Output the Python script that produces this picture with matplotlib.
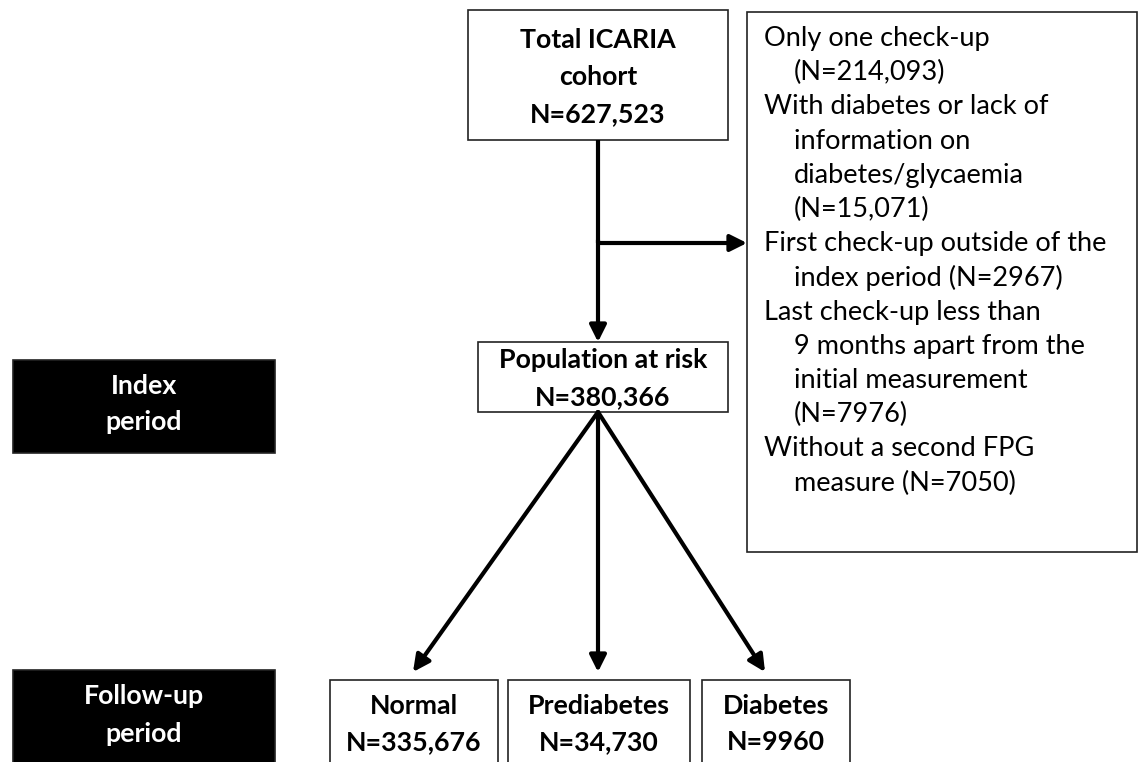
import matplotlib.pyplot as plt
from matplotlib.patches import Rectangle

plt.rcParams['font.family'] = ['Lato', 'DejaVu Sans']

total_label = 'Total ICARIA\ncohort'
total_n = '627,523'
risk_label = 'Population at risk'
risk_n = '380,366'
outcome_names = ['Normal', 'Prediabetes', 'Diabetes']
outcome_n = ['335,676', '34,730', '9960']
period_labels = ['Index\nperiod', 'Follow-up\nperiod']
exclusions = [
    ('Only one check-up', 0), ('(N=214,093)', 1),
    ('With diabetes or lack of', 0), ('information on', 1),
    ('diabetes/glycaemia', 1), ('(N=15,071)', 1),
    ('First check-up outside of the', 0), ('index period (N=2967)', 1),
    ('Last check-up less than', 0), ('9 months apart from the', 1),
    ('initial measurement', 1), ('(N=7976)', 1),
    ('Without a second FPG', 0), ('measure (N=7050)', 1),
]

fig = plt.figure(figsize=(11.4, 7.62), dpi=100)
ax = fig.add_axes([0, 0, 1, 1])
ax.set_xlim(0, 1140)
ax.set_ylim(762, 0)
ax.axis('off')


def box(x0, y0, x1, y1, fc='white'):
    ax.add_patch(Rectangle((x0, y0), x1 - x0, y1 - y0, fc=fc, ec='#222222', lw=1.2))


def arrow(x0, y0, x1, y1):
    ax.annotate('', xy=(x1, y1), xytext=(x0, y0),
                arrowprops=dict(arrowstyle='-|>,head_length=1.0,head_width=0.5',
                                color='black', lw=3, shrinkA=0, shrinkB=0))


bold = dict(ha='center', va='center', fontsize=19.3, fontweight='bold', linespacing=1.65)

# top box
box(468, 10, 728, 140)
ax.text(598, 77, total_label + '\nN=' + total_n, **bold)

# exclusion box
box(747, 12, 1137, 552)
for i, (line, ind) in enumerate(exclusions):
    ax.text(764 + ind * 30, 38.5 + i * 34.2, line, ha='left', va='center', fontsize=19.5)

# trunk and branch
ax.plot([598, 598], [140, 243], color='black', lw=3, solid_capstyle='butt')
arrow(598, 240, 598, 342)
arrow(598, 243, 747, 243)

# population box
box(478, 342, 728, 412)
ax.text(603, 379, risk_label + '\nN=' + risk_n, **bold)

# outcome boxes
out_x = [(330, 498), (508, 690), (702, 850)]
targets = [413, 598, 765]
for (x0, x1), t, name, n in zip(out_x, targets, outcome_names, outcome_n):
    arrow(598, 412, t, 672)
    box(x0, 680, x1, 775)
    ax.text((x0 + x1) / 2, 724, name + '\nN=' + n, **bold)

# period labels
for (y0, y1), yc, lab in zip([(360, 453), (670, 775)], [404, 715], period_labels):
    box(13, y0, 275, y1, fc='black')
    ax.text(144, yc, lab, color='white', **bold)

fig.savefig('out.png', dpi=100)
